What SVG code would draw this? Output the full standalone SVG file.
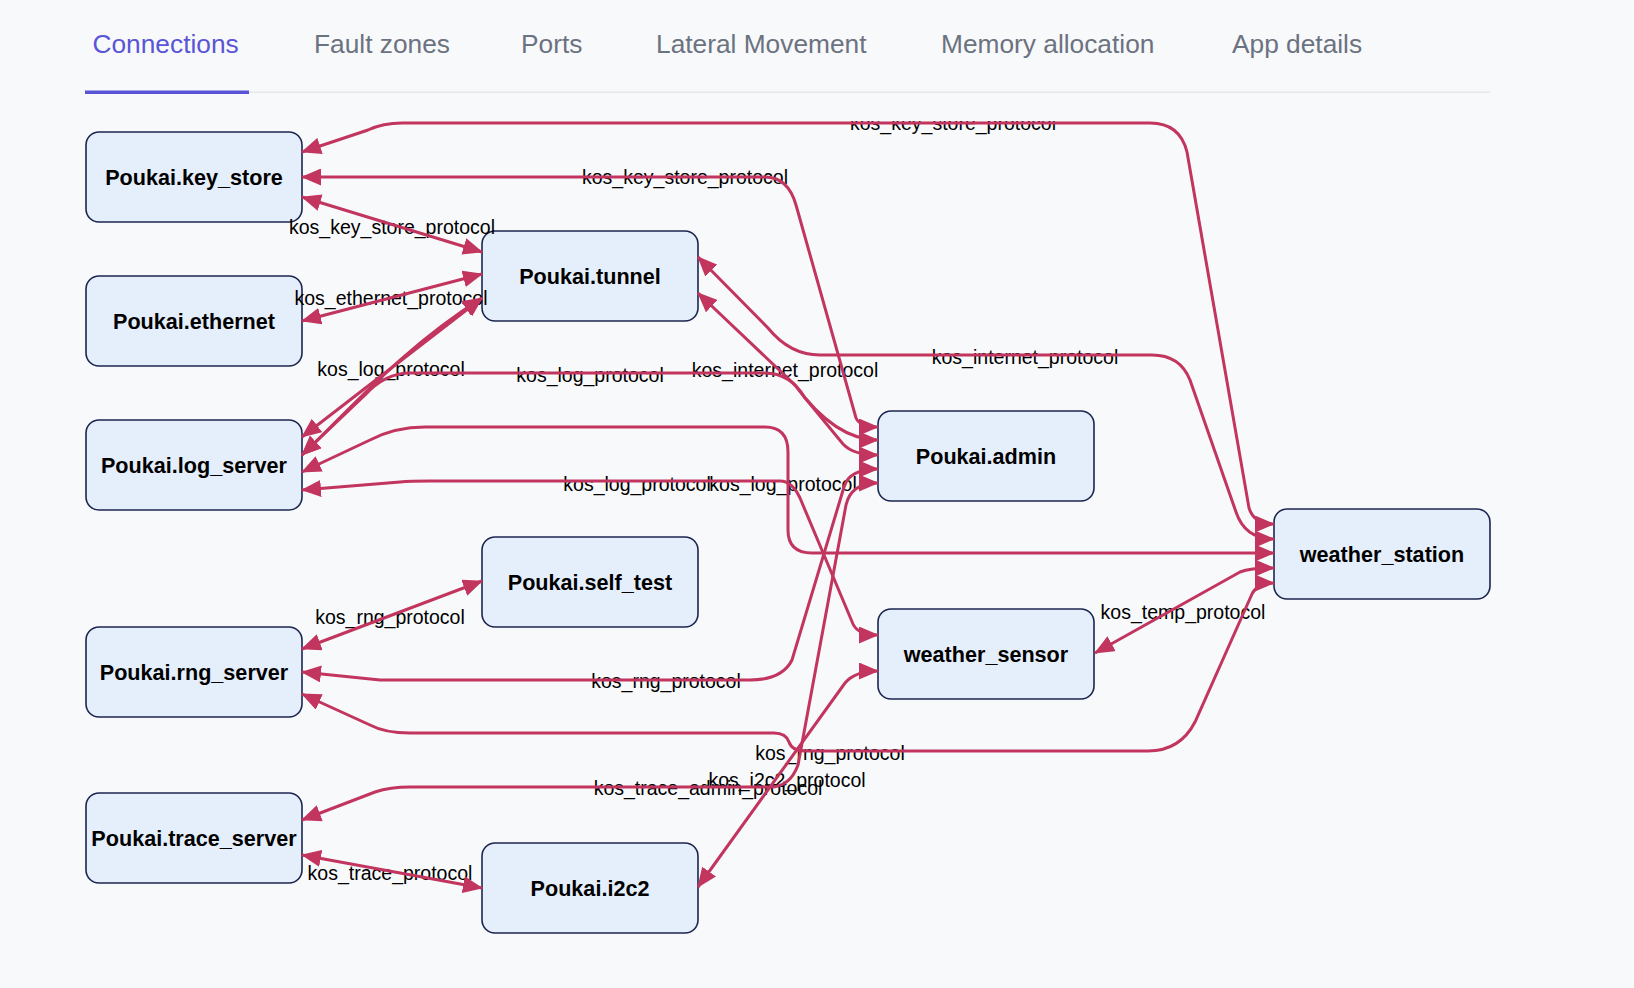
<svg xmlns="http://www.w3.org/2000/svg" width="1634" height="988" viewBox="0 0 1634 988">
<style>
.bg{fill:#f8f9fb}
.tab{font-family:"Liberation Sans",Arial,sans-serif;font-size:26.3px;fill:#6b7280}
.tab.on{fill:#5a55d6}
.node rect{fill:#e5eefb;stroke:#1c2650;stroke-width:1.6}
.node text{font-family:"Liberation Sans",Arial,sans-serif;font-size:21.6px;font-weight:bold;fill:#000;text-anchor:middle}
.edges path{fill:none;stroke:#c2355f;stroke-width:3;marker-start:url(#ah);marker-end:url(#ah)}
.lbl text{font-family:"Liberation Sans",Arial,sans-serif;font-size:19.5px;fill:#000;text-anchor:middle}
</style>
<defs>
<marker id="ah" viewBox="0 0 20 17" markerWidth="20" markerHeight="17" refX="19" refY="8.5" orient="auto-start-reverse" markerUnits="userSpaceOnUse">
<path d="M0,0 L20,8.5 L0,17 z" fill="#c2355f"/>
</marker>
<clipPath id="gc"><rect x="0" y="121" width="1634" height="867"/></clipPath>
</defs>
<rect class="bg" x="0" y="0" width="1634" height="988"/>
<g id="tabs">
<text class="tab on" x="92.5" y="53">Connections</text>
<text class="tab" x="314" y="53">Fault zones</text>
<text class="tab" x="521" y="53">Ports</text>
<text class="tab" x="656" y="53">Lateral Movement</text>
<text class="tab" x="941" y="53">Memory allocation</text>
<text class="tab" x="1232" y="53">App details</text>
<rect x="85" y="91.5" width="1405" height="1.5" fill="#e5e7eb"/>
<rect x="85" y="90.5" width="164" height="3.5" fill="#5a55d6"/>
</g>
<g id="n_key_store" class="node"><rect x="86" y="132" width="216" height="90" rx="13"/><text x="194" y="184.5">Poukai.key_store</text></g>
<g id="n_ethernet" class="node"><rect x="86" y="276" width="216" height="90" rx="13"/><text x="194" y="328.5">Poukai.ethernet</text></g>
<g id="n_log_server" class="node"><rect x="86" y="420" width="216" height="90" rx="13"/><text x="194" y="472.5">Poukai.log_server</text></g>
<g id="n_rng_server" class="node"><rect x="86" y="627" width="216" height="90" rx="13"/><text x="194" y="679.5">Poukai.rng_server</text></g>
<g id="n_trace_server" class="node"><rect x="86" y="793" width="216" height="90" rx="13"/><text x="194" y="845.5">Poukai.trace_server</text></g>
<g id="n_tunnel" class="node"><rect x="482" y="231" width="216" height="90" rx="13"/><text x="590" y="283.5">Poukai.tunnel</text></g>
<g id="n_self_test" class="node"><rect x="482" y="537" width="216" height="90" rx="13"/><text x="590" y="589.5">Poukai.self_test</text></g>
<g id="n_i2c2" class="node"><rect x="482" y="843" width="216" height="90" rx="13"/><text x="590" y="895.5">Poukai.i2c2</text></g>
<g id="n_admin" class="node"><rect x="878" y="411" width="216" height="90" rx="13"/><text x="986" y="463.5">Poukai.admin</text></g>
<g id="n_weather_sensor" class="node"><rect x="878" y="609" width="216" height="90" rx="13"/><text x="986" y="661.5">weather_sensor</text></g>
<g id="n_weather_station" class="node"><rect x="1274" y="509" width="216" height="90" rx="13"/><text x="1382" y="561.5">weather_station</text></g>
<g clip-path="url(#gc)">
<g id="labels" class="lbl">
<text x="953" y="130">kos_key_store_protocol</text>
<text x="685" y="184">kos_key_store_protocol</text>
<text x="392" y="234">kos_key_store_protocol</text>
<text x="391" y="305">kos_ethernet_protocol</text>
<text x="391" y="376">kos_log_protocol</text>
<text x="590" y="382">kos_log_protocol</text>
<text x="785" y="377">kos_internet_protocol</text>
<text x="1025" y="364">kos_internet_protocol</text>
<text x="637" y="491">kos_log_protocol</text>
<text x="783" y="491">kos_log_protocol</text>
<text x="390" y="624">kos_rng_protocol</text>
<text x="1183" y="619">kos_temp_protocol</text>
<text x="666" y="688">kos_rng_protocol</text>
<text x="830" y="760">kos_rng_protocol</text>
<text x="787" y="787">kos_i2c2_protocol</text>
<text x="708" y="795">kos_trace_admin_protocol</text>
<text x="390" y="880">kos_trace_protocol</text>
</g>
<g id="connectors" class="edges">
<path d="M302,152 L368,130 Q383,123 402,123 L1150,123 Q1180,123 1187,152 L1249,508 Q1254,524 1274,524"/>
<path d="M302,177 L765,177 Q788,177 796,205 L856,418 Q860,427 878,427"/>
<path d="M302,197 L482,252"/>
<path d="M302,321 L482,274"/>
<path d="M302,437 L482,298"/>
<path d="M302,455 C350,410 400,350 482,298"/>
<path d="M698,257 L768,328 Q790,355 820,355 L1152,355 Q1180,355 1190,380 L1236,512 Q1245,539 1274,539"/>
<path d="M698,293 L795,385 Q835,440 878,440"/>
<path d="M302,455 L365,395 Q385,373 410,373 L765,373 Q790,373 805,398 L843,444 Q853,455 878,455"/>
<path d="M302,472 L370,440 Q395,427 425,427 L765,427 Q788,427 788,452 L788,530 Q788,553 812,553 L1274,553"/>
<path d="M302,490 L400,482 Q410,481 430,481 L780,481 Q792,481 800,498 L853,624 Q858,635 878,635"/>
<path d="M302,649 L482,581"/>
<path d="M302,672 L380,680 L750,680 Q782,680 792,660 L844,487 Q849,469 878,469"/>
<path d="M302,694 L370,725 Q385,733 410,733 L774,733 Q786,733 789,742 Q792,751 805,751 L1148,751 Q1180,751 1195,722 L1252,594 Q1257,583 1274,583"/>
<path d="M302,820 L375,792 Q390,787 410,787 L770,787 Q790,787 798,765 L846,505 Q851,483 878,483"/>
<path d="M302,855 L482,888"/>
<path d="M698,887 L845,683 Q855,671 878,671"/>
<path d="M1095,653 L1240,572 Q1250,568 1274,568"/>
</g>
</g>
</svg>
